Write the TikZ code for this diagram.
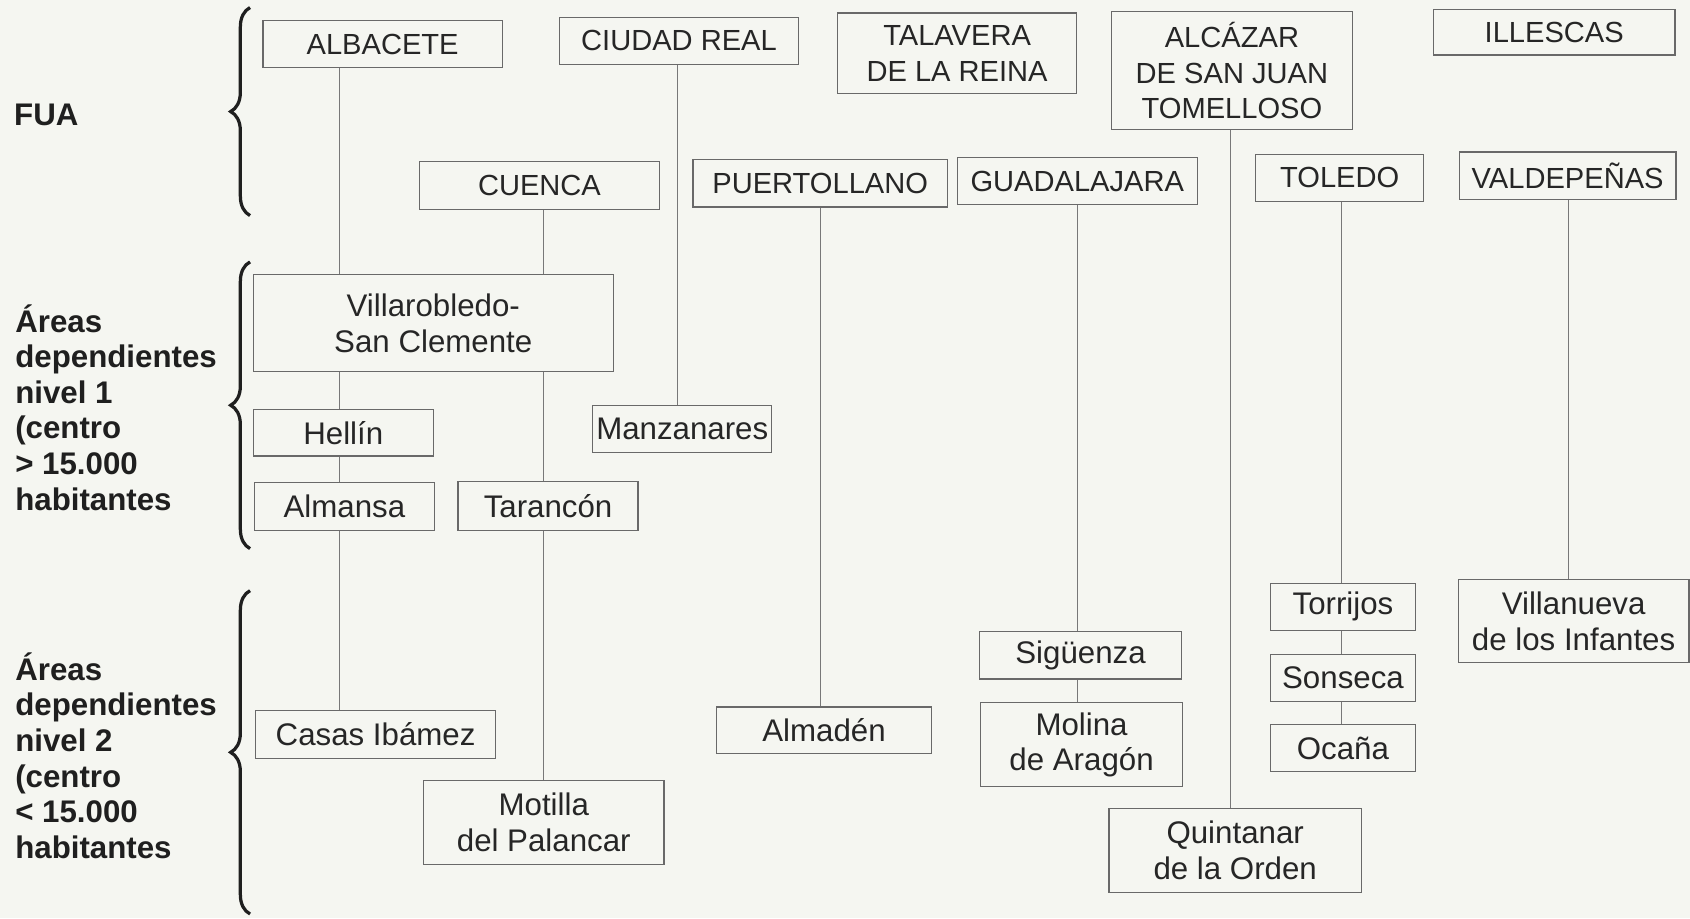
\documentclass[tikz,border=0pt]{standalone}
\usepackage{fontspec}
\setmainfont{Liberation Sans}
\usetikzlibrary{decorations.pathreplacing}
\definecolor{bg}{RGB}{245,246,241}
\definecolor{boxline}{RGB}{105,105,105}
\definecolor{txt}{RGB}{38,38,38}
\definecolor{conncol}{RGB}{120,120,120}
\begin{document}
\begin{tikzpicture}[x=1pt,y=-1pt,
  cbox/.style={draw=boxline, line width=1.1pt, inner sep=0pt, text=txt, align=center, font=\fontsize{27}{33}\selectfont},
  lbox/.style={cbox, font=\fontsize{29}{33}\selectfont},
  conn/.style={draw=conncol, line width=0.9pt},
  lab/.style={anchor=west, align=left, inner sep=0pt, text=black!88, font=\bfseries\fontsize{29}{33}\selectfont},
  brc/.style={decorate, decoration={brace, amplitude=18pt}, line width=3pt, draw=black!88}]
\fill[bg] (0,0) rectangle (1568,852);
\useasboundingbox (0,0) rectangle (1568,852);

% left labels
\node[lab] (fua) at (13,107) {FUA};
\node[lab] (lv1) at (14,378) {Áreas\\dependientes\\nivel 1\\(centro\\> 15.000\\habitantes};
\node[lab] (lv2) at (14,701) {Áreas\\dependientes\\nivel 2\\(centro\\< 15.000\\habitantes};

% braces
\draw[brc] (232,200) -- (232,7);
\draw[brc] (232,509) -- (232,243);
\draw[brc] (232,848) -- (232,548);

% FUA boxes
\node[cbox, minimum width=222pt, minimum height=44pt] (albacete) at (355,41) {ALBACETE};
\node[cbox, minimum width=222pt, minimum height=44pt] (ciudad) at (630,38) {CIUDAD REAL};
\node[cbox, minimum width=222pt, minimum height=75pt] (talavera) at (888,49.5) {TALAVERA\\DE LA REINA};
\node[cbox, minimum width=224pt, minimum height=109pt] (alcazar) at (1143,65.5) {ALCÁZAR\\DE SAN JUAN\\TOMELLOSO};
\node[cbox, minimum width=224pt, minimum height=42pt] (illescas) at (1442,30) {ILLESCAS};
\node[cbox, minimum width=223pt, minimum height=44pt] (cuenca) at (500.5,172) {CUENCA};
\node[cbox, minimum width=236pt, minimum height=44pt] (puerto) at (761,170) {PUERTOLLANO};
\node[cbox, minimum width=223pt, minimum height=44pt] (guada) at (999.5,168) {GUADALAJARA};
\node[cbox, minimum width=156pt, minimum height=44pt] (toledo) at (1243,165) {TOLEDO};
\node[cbox, minimum width=201pt, minimum height=44pt] (valde) at (1454.5,163) {VALDEPEÑAS};

% level 1
\node[lbox, minimum width=334pt, minimum height=90pt] (villa) at (402,300) {Villarobledo-\\San Clemente};
\node[lbox, minimum width=167pt, minimum height=43pt] (hellin) at (318.5,401.5) {Hellín};
\node[lbox, minimum width=166pt, minimum height=44pt] (manz) at (633,398) {Manzanares};
\node[lbox, minimum width=167pt, minimum height=44pt] (almansa) at (319.5,470) {Almansa};
\node[lbox, minimum width=167pt, minimum height=45pt] (taran) at (508.5,469.5) {Tarancón};

% level 2
\node[lbox, minimum width=223pt, minimum height=45pt] (casas) at (348.5,681.5) {Casas Ibámez};
\node[lbox, minimum width=223pt, minimum height=78pt] (motilla) at (504.5,763) {Motilla\\del Palancar};
\node[lbox, minimum width=199pt, minimum height=43pt] (almaden) at (764.5,677.5) {Almadén};
\node[lbox, minimum width=187pt, minimum height=44pt] (sigu) at (1002.5,608) {Sigüenza};
\node[lbox, minimum width=187pt, minimum height=78pt] (molina) at (1003.5,691) {Molina\\de Aragón};
\node[lbox, minimum width=134pt, minimum height=44pt] (torrijos) at (1246,563) {Torrijos};
\node[lbox, minimum width=134pt, minimum height=44pt] (sonseca) at (1246,629) {Sonseca};
\node[lbox, minimum width=134pt, minimum height=44pt] (ocana) at (1246,694) {Ocaña};
\node[lbox, minimum width=214pt, minimum height=77pt] (villanueva) at (1460,576.5) {Villanueva\\de los Infantes};
\node[lbox, minimum width=234pt, minimum height=78pt] (quintanar) at (1146,789) {Quintanar\\de la Orden};

% connector x positions
\coordinate (xA) at (315,0);
\coordinate (xC) at (629,0);
\coordinate (xCu) at (504,0);
\coordinate (xP) at (761,0);
\coordinate (xG) at (1000,0);
\coordinate (xAl) at (1142,0);
\coordinate (xT) at (1245,0);
\coordinate (xV) at (1455,0);

% connectors
\draw[conn] (albacete.south -| xA) -- (villa.north -| xA);
\draw[conn] (villa.south -| xA) -- (hellin.north -| xA);
\draw[conn] (hellin.south -| xA) -- (almansa.north -| xA);
\draw[conn] (almansa.south -| xA) -- (casas.north -| xA);
\draw[conn] (ciudad.south -| xC) -- (manz.north -| xC);
\draw[conn] (cuenca.south -| xCu) -- (villa.north -| xCu);
\draw[conn] (villa.south -| xCu) -- (taran.north -| xCu);
\draw[conn] (taran.south -| xCu) -- (motilla.north -| xCu);
\draw[conn] (puerto.south -| xP) -- (almaden.north -| xP);
\draw[conn] (guada.south -| xG) -- (sigu.north -| xG);
\draw[conn] (sigu.south -| xG) -- (molina.north -| xG);
\draw[conn] (alcazar.south -| xAl) -- (quintanar.north -| xAl);
\draw[conn] (toledo.south -| xT) -- (torrijos.north -| xT);
\draw[conn] (torrijos.south -| xT) -- (sonseca.north -| xT);
\draw[conn] (sonseca.south -| xT) -- (ocana.north -| xT);
\draw[conn] (valde.south -| xV) -- (villanueva.north -| xV);
\end{tikzpicture}
\end{document}
